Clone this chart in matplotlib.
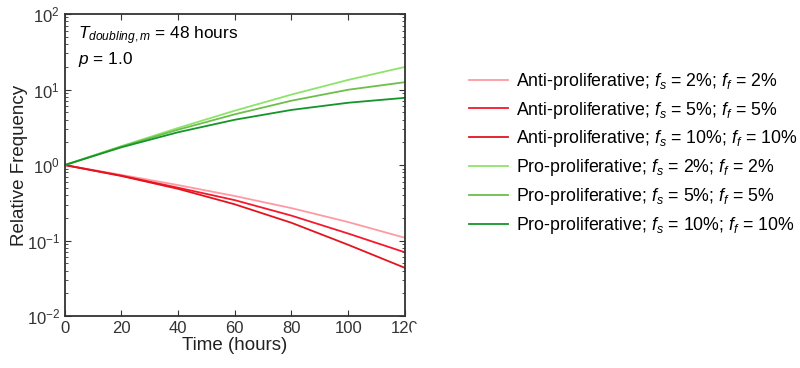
import matplotlib
matplotlib.use("Agg")
import matplotlib.pyplot as plt
from matplotlib.patches import Rectangle

plt.rcParams["font.family"] = ["Liberation Sans", "DejaVu Sans"]
plt.rcParams["mathtext.fontset"] = "custom"
plt.rcParams["mathtext.rm"] = "Liberation Sans"
plt.rcParams["mathtext.it"] = "Liberation Sans:italic"

time_h = [0, 20, 40, 60, 80, 100, 120]

anti_2 = [1.0, 0.741, 0.543, 0.389, 0.269, 0.176, 0.109]
anti_5 = [1.0, 0.724, 0.501, 0.343, 0.214, 0.124, 0.070]
anti_10 = [1.0, 0.716, 0.484, 0.302, 0.172, 0.088, 0.0436]
pro_2 = [1.0, 1.78, 3.10, 5.25, 8.57, 13.4, 19.9]
pro_5 = [1.0, 1.76, 2.94, 4.70, 7.11, 9.93, 12.5]
pro_10 = [1.0, 1.72, 2.72, 3.98, 5.37, 6.68, 7.76]

series = [
    (anti_2, "#ff9aa2", r"Anti-proliferative; $f_s$ = 2%; $f_f$ = 2%"),
    (anti_5, "#f5192d", r"Anti-proliferative; $f_s$ = 5%; $f_f$ = 5%"),
    (anti_10, "#e2141e", r"Anti-proliferative; $f_s$ = 10%; $f_f$ = 10%"),
    (pro_2, "#8ee46a", r"Pro-proliferative; $f_s$ = 2%; $f_f$ = 2%"),
    (pro_5, "#6cbf4a", r"Pro-proliferative; $f_s$ = 5%; $f_f$ = 5%"),
    (pro_10, "#13952a", r"Pro-proliferative; $f_s$ = 10%; $f_f$ = 10%"),
]

fig = plt.figure(figsize=(8, 3.68), dpi=100)
ax = fig.add_axes([0.081, 0.141, 0.425, 0.821])

lines = []
for vals, col, lab in series:
    ln, = ax.plot(time_h, vals, color=col, lw=1.3, label=lab)
    lines.append(ln)

ax.set_yscale("log")
ax.set_xlim(0, 120)
ax.set_ylim(1e-2, 1e2)
ax.set_xticks([0, 20, 40, 60, 80, 100, 120])
ax.tick_params(which="both", direction="in", top=True, right=True,
               labelsize=12, colors="#333333")
ax.tick_params(which="major", length=4)
ax.tick_params(which="minor", length=2)
for s in ax.spines.values():
    s.set_linewidth(1.3)
    s.set_color("#333333")

ax.set_xlabel("Time (hours)", fontsize=13.5, color="#222222", labelpad=1)
ax.set_ylabel("Relative Frequency", fontsize=13.5, color="#222222", labelpad=-1)

ax.text(0.04, 0.965, r"$T_{doubling,m}$ = 48 hours", transform=ax.transAxes,
        fontsize=12.4, va="top", ha="left")
ax.text(0.04, 0.88, r"$p$ = 1.0", transform=ax.transAxes,
        fontsize=12.4, va="top", ha="left")

fig.legend(handles=lines, loc="upper left", bbox_to_anchor=(0.566, 0.851),
           frameon=False, fontsize=12.8, handlelength=2.2, handletextpad=0.44,
           labelspacing=0.44)

# the original image is cut just past the last tick label
fig.patches.append(Rectangle((412 / 800, 0.0), 0.03, 0.12,
                             transform=fig.transFigure, color="white", zorder=10))

fig.savefig("out.png", dpi=100)
